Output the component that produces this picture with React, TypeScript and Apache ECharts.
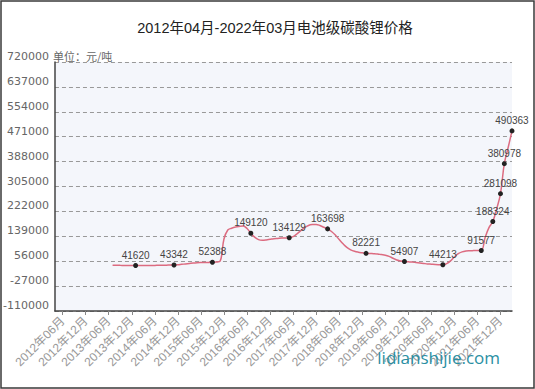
import React, { useEffect, useRef } from 'react';
import * as echarts from 'echarts';

// Categories: monthly, 2012年04月 .. 2022年03月
const firstYear = 2012;
const firstMonth = 4;
const monthCount = 120;
const months: string[] = [];
for (let i = 0; i < monthCount; i++) {
  const m = firstMonth - 1 + i;
  const y = firstYear + Math.floor(m / 12);
  const mm = (m % 12) + 1;
  months.push(`${y}年${String(mm).padStart(2, '0')}月`);
}

const titleText = '2012年04月-2022年03月电池级碳酸锂价格';
const unitText = '单位：元/吨';
const watermark = 'lidianshijie.com';

// Y axis scale
const yMin = -110000;
const yMax = 720000;
const yStep = 83000;

// Price series (元/吨), monthly, starting at priceStart
const priceStart = '2013年07月';
const prices = [
  42500, 42300, 42100, 42000, 41900, 41700, 41620, 41600, 41600, 41700,
  41800, 42000, 42200, 42500, 42800, 43100, 43342, 44000, 45500, 47000,
  48500, 50000, 51000, 51500, 51800, 52000, 52388, 53000, 56000, 130000,
  160000, 166000, 170000, 172000, 173000, 165000, 149120, 136000, 128000, 126000,
  127000, 129000, 131000, 132000, 133000, 133500, 134129, 138000, 147000, 158000,
  168000, 175000, 178000, 178500, 175000, 169000, 163698, 155000, 143000, 128000,
  114000, 102000, 94000, 89000, 86000, 84000, 82221, 81500, 81000, 80000,
  78000, 76000, 72000, 66000, 60000, 57000, 54907, 54000, 53000, 51500,
  50000, 48500, 47000, 46000, 45000, 44500, 44213, 48000, 57000, 70000,
  81000, 87000, 90000, 91000, 91300, 91500, 91577, 135000, 168000, 188324,
  230000, 281098, 380978, 435000, 490363,
];

// Points that carry a marker and a value label
const labeledMonths = [
  '2014年01月', '2014年11月', '2015年09月', '2016年07月', '2017年05月',
  '2018年03月', '2019年01月', '2019年11月', '2020年09月', '2021年07月',
  '2021年10月', '2021年12月', '2022年01月', '2022年03月',
];

const App: React.FC = () => {
  const ref = useRef<HTMLDivElement>(null);

  useEffect(() => {
    if (!ref.current) return;
    const chart = echarts.init(ref.current, undefined, { renderer: 'svg' });
    const startIdx = months.indexOf(priceStart);
    const labeled = new Set(labeledMonths);
    const seriesData = months.map((m, i) => {
      const k = i - startIdx;
      if (k < 0 || k >= prices.length) return null;
      const v = prices[k];
      return labeled.has(m)
        ? { value: v, symbol: 'circle', symbolSize: 5, label: { show: true } }
        : { value: v, symbol: 'none' };
    });
    const isTickMonth = (_i: number, v: string) => v.endsWith('06月') || v.endsWith('12月');

    chart.setOption({
      animation: false,
      backgroundColor: '#ffffff',
      grid: {
        left: 52,
        right: 23,
        top: 62,
        bottom: 78,
        show: true,
        backgroundColor: '#f4f6fb',
        borderWidth: 0,
      },
      xAxis: {
        type: 'category',
        data: months,
        boundaryGap: false,
        axisLine: { show: true, onZero: false, lineStyle: { color: '#444', width: 1.5 } },
        axisTick: { show: true, interval: isTickMonth, length: 4, lineStyle: { color: '#888' } },
        axisLabel: {
          interval: isTickMonth,
          rotate: 45,
          margin: 8,
          color: '#999',
          fontSize: 12,
          fontFamily: 'Liberation Sans, Noto Sans CJK SC, sans-serif',
        },
        splitLine: { show: false },
      },
      yAxis: {
        type: 'value',
        min: yMin,
        max: yMax,
        interval: yStep,
        axisLine: { show: true, lineStyle: { color: '#444', width: 1.5 } },
        axisTick: { show: false },
        axisLabel: {
          color: '#666',
          fontSize: 11,
          margin: 6,
          verticalAlign: 'bottom',
          fontFamily: 'DejaVu Sans, sans-serif',
          formatter: (v: number) => String(v),
        },
        splitLine: { show: true, lineStyle: { color: '#999', type: [4, 3], width: 1 } },
      },
      series: [
        {
          type: 'line',
          data: seriesData,
          smooth: 0.4,
          connectNulls: false,
          showSymbol: true,
          showAllSymbol: true,
          lineStyle: { color: '#dc6b80', width: 1.5 },
          itemStyle: { color: '#222' },
          labelLayout: { hideOverlap: false },
          label: {
            show: false,
            position: 'top',
            distance: 3,
            color: '#444',
            fontSize: 10,
            fontFamily: 'Liberation Sans, sans-serif',
          },
          z: 3,
        },
      ],
      graphic: [
        {
          type: 'rect',
          silent: true,
          shape: { x: 1, y: 1, width: 533, height: 387 },
          style: { fill: 'none', stroke: '#3a3a3a', lineWidth: 1.5 },
          z: 100,
        },
        {
          type: 'text',
          x: 275,
          y: 28,
          style: {
            text: titleText,
            textAlign: 'center',
            textVerticalAlign: 'middle',
            fill: '#222',
            fontSize: 14.5,
            fontFamily: 'Liberation Sans, Noto Sans CJK SC, sans-serif',
          },
        },
        {
          type: 'text',
          x: 53,
          y: 56,
          style: {
            text: unitText,
            textAlign: 'left',
            textVerticalAlign: 'middle',
            fill: '#666',
            fontSize: 11,
            fontFamily: 'Noto Sans CJK SC, sans-serif',
          },
        },
        {
          type: 'text',
          x: 500,
          y: 357,
          style: {
            text: watermark,
            textAlign: 'right',
            textVerticalAlign: 'middle',
            fill: '#2a8fa3',
            fontSize: 17,
            fontFamily: 'Open Sans, sans-serif',
          },
          z: 50,
        },
      ],
    });
    return () => chart.dispose();
  }, []);

  return (
    <div
      ref={ref}
      style={{ position: 'absolute', left: 0, top: 0, width: 535, height: 389 }}
    />
  );
};

export default App;
